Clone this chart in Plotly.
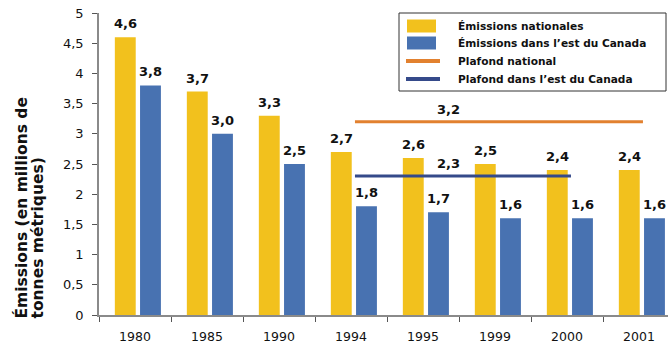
import plotly.graph_objects as go

# Emissions by year (millions of metric tonnes)
years = ["1980", "1985", "1990", "1994", "1995", "1999", "2000", "2001"]
national = [4.6, 3.7, 3.3, 2.7, 2.6, 2.5, 2.4, 2.4]
eastern = [3.8, 3.0, 2.5, 1.8, 1.7, 1.6, 1.6, 1.6]

# Caps: value and the span of years they apply to
cap_national = 3.2
cap_national_span = ("1994", "2001")
cap_eastern = 2.3
cap_eastern_span = ("1994", "2000")

name_national = "Émissions nationales"
name_eastern = "Émissions dans l’est du Canada"
name_cap_national = "Plafond national"
name_cap_eastern = "Plafond dans l’est du Canada"

YELLOW = "#F2C11D"
BLUE = "#4872B1"
ORANGE = "#E2812F"
NAVY = "#354A8A"
FONT = "DejaVu Sans"

W, H = 668, 343
ML, MR, MT, MB = 99, 0, 13, 28
PW, PH = W - ML - MR, H - MT - MB

idx = list(range(len(years)))
bar_w = 0.29
off_nat = -0.28
off_east = 0.07
line_shift = 0.055

fig = go.Figure()

fig.add_trace(go.Bar(
    x=idx, y=national, name=name_national,
    marker=dict(color=YELLOW, line=dict(width=0)),
    width=bar_w, offset=off_nat,
))
fig.add_trace(go.Bar(
    x=idx, y=eastern, name=name_eastern,
    marker=dict(color=BLUE, line=dict(width=0)),
    width=bar_w, offset=off_east,
))


def span_x(span):
    a, b = years.index(span[0]), years.index(span[1])
    return [a + line_shift, b + line_shift]


fig.add_trace(go.Scatter(
    x=span_x(cap_national_span), y=[cap_national] * 2, mode="lines",
    name=name_cap_national, line=dict(color=ORANGE, width=3),
))
fig.add_trace(go.Scatter(
    x=span_x(cap_eastern_span), y=[cap_eastern] * 2, mode="lines",
    name=name_cap_eastern, line=dict(color=NAVY, width=3),
))


def fmt(v):
    return f"{v:.1f}".replace(".", ",")


label_font = dict(family=FONT, size=13, color="#111", weight="bold")
annotations = []
for i, v in enumerate(national):
    annotations.append(dict(x=i + off_nat + bar_w / 2, y=v, text=fmt(v),
                            yanchor="bottom", yshift=4, showarrow=False, font=label_font))
for i, v in enumerate(eastern):
    annotations.append(dict(x=i + off_east + bar_w / 2, y=v, text=fmt(v),
                            yanchor="bottom", yshift=4, showarrow=False, font=label_font))
cap_label_x = 4.35
for v in (cap_national, cap_eastern):
    annotations.append(dict(x=cap_label_x, y=v, text=fmt(v),
                            yanchor="bottom", yshift=3, showarrow=False, font=label_font))


def px(x):
    return (x - ML) / PW


def py(y):
    return (H - MB - y) / PH


# Y-axis title, two left-aligned rotated lines
title_font = dict(family=FONT, size=15.5, color="#111", weight="bold")
for text, cx in (("Émissions (en millions de", 21), ("tonnes métriques)", 37)):
    annotations.append(dict(
        xref="paper", yref="paper", x=px(cx), y=py(321), text=text,
        textangle=-90, showarrow=False, xanchor="center", yanchor="bottom",
        font=title_font,
    ))

# Legend box
shapes = [dict(type="rect", xref="paper", yref="paper",
               x0=px(399), x1=px(666), y0=py(91), y1=py(13),
               line=dict(color="#333", width=1), fillcolor="white", layer="above")]
legend_rows = [
    (name_national, YELLOW, "bar", 26),
    (name_eastern, BLUE, "bar", 43),
    (name_cap_national, ORANGE, "line", 61),
    (name_cap_eastern, NAVY, "line", 79),
]
for name, color, kind, cy in legend_rows:
    if kind == "bar":
        shapes.append(dict(type="rect", xref="paper", yref="paper",
                           x0=px(407), x1=px(436), y0=py(cy + 6.5), y1=py(cy - 6.5),
                           line=dict(width=0), fillcolor=color, layer="above"))
    else:
        shapes.append(dict(type="line", xref="paper", yref="paper",
                           x0=px(406), x1=px(440), y0=py(cy), y1=py(cy),
                           line=dict(color=color, width=4), layer="above"))
    annotations.append(dict(
        xref="paper", yref="paper", x=px(456), y=py(cy), text=name,
        xanchor="left", yanchor="middle", showarrow=False,
        font=dict(family=FONT, size=10.6, color="#111", weight="bold"),
    ))

fig.update_layout(
    width=W, height=H,
    margin=dict(l=ML, r=MR, t=MT, b=MB),
    paper_bgcolor="white", plot_bgcolor="white",
    separators=", ",
    barmode="overlay",
    annotations=annotations,
    shapes=shapes,
    showlegend=False,
)

fig.update_xaxes(
    range=[-0.5, -0.5 + PW / 72],
    tickmode="array", tickvals=idx, ticktext=years,
    ticks="", showgrid=False, zeroline=False,
    showline=True, linecolor="#8a8a8a", linewidth=1.5,
    tickfont=dict(family=FONT, size=12.5, color="#111"),
    ticklabelstandoff=9,
    minor=dict(tickmode="array", tickvals=[i - 0.5 for i in range(len(years) + 1)],
               ticks="outside", ticklen=5, tickcolor="#555", tickwidth=1, showgrid=False),
)
fig.update_yaxes(
    range=[0, 5], dtick=0.5, tick0=0,
    ticks="outside", ticklen=5, tickcolor="#555",
    showgrid=False, zeroline=False,
    showline=True, linecolor="#8a8a8a", linewidth=1.5,
    tickfont=dict(family=FONT, size=13, color="#111"),
    ticklabelstandoff=6,
)

fig.write_html("out.html")
